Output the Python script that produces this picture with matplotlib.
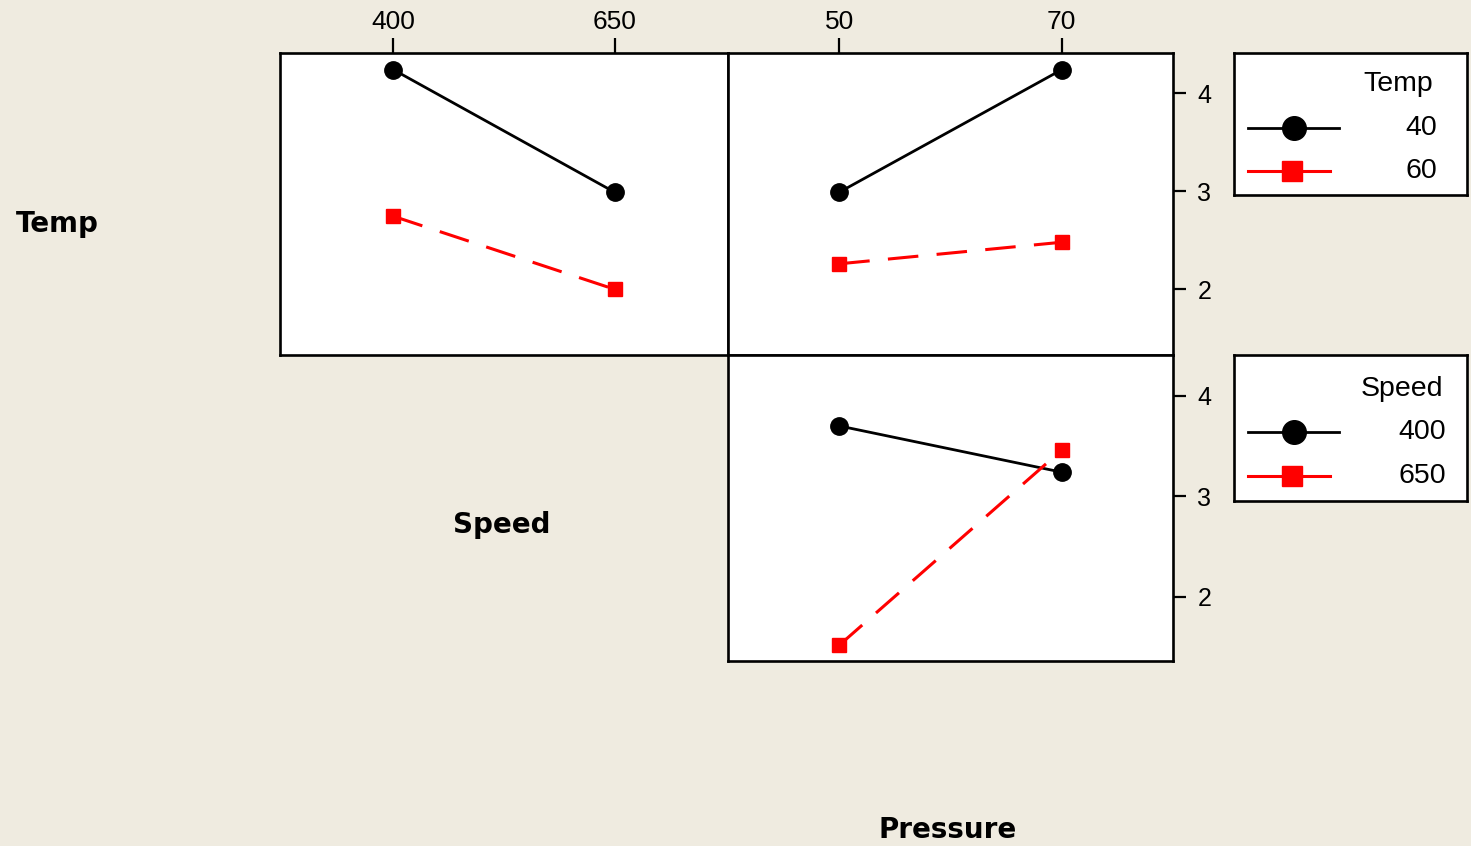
import numpy as np
import matplotlib
matplotlib.use('Agg')
import matplotlib.pyplot as plt

plt.rcParams['font.family'] = ['Liberation Sans', 'DejaVu Sans']

# factor levels
speed_levels = [400, 650]
pressure_levels = [50, 70]
temp_labels = ['40', '60']
speed_labels = ['400', '650']

# cell means
temp40_vs_speed = [4.24, 2.99]
temp60_vs_speed = [2.745, 2.00]
temp40_vs_pressure = [2.99, 4.24]
temp60_vs_pressure = [2.26, 2.48]
speed400_vs_pressure = [3.70, 3.24]
speed650_vs_pressure = [1.52, 3.46]

bg = '#EFEBE0'
W, H = 1471, 846
fig = plt.figure(figsize=(W / 100, H / 100), dpi=100, facecolor=bg)


def px_axes(x0, y0, x1, y1):
    return fig.add_axes([x0 / W, 1 - y1 / H, (x1 - x0) / W, (y1 - y0) / H])


black = dict(color='black', lw=2.0, marker='o', ms=12.5)
red = dict(color='red', lw=2.2, ls=(0, (10, 6)), marker='s', ms=10.5)

ax_ts = px_axes(280, 53, 728, 355)
ax_tp = px_axes(728, 53, 1173, 355)
ax_sp = px_axes(728, 355, 1173, 661)

ax_ts.plot(speed_levels, temp40_vs_speed, **black)
ax_ts.plot(speed_levels, temp60_vs_speed, **red)
ax_tp.plot(pressure_levels, temp40_vs_pressure, **black)
ax_tp.plot(pressure_levels, temp60_vs_pressure, **red)
ax_sp.plot(pressure_levels, speed400_vs_pressure, **black)
ax_sp.plot(pressure_levels, speed650_vs_pressure, **red)

ax_ts.set_xlim(272, 778)
ax_tp.set_xlim(40, 80)
ax_sp.set_xlim(40, 80)
for ax in (ax_ts, ax_tp):
    ax.set_ylim(1.33, 4.41)
ax_sp.set_ylim(1.363, 4.405)

for ax in (ax_ts, ax_tp, ax_sp):
    ax.set_facecolor('white')
    for s in ax.spines.values():
        s.set_linewidth(1.9)
    ax.tick_params(left=False, labelleft=False, bottom=False, labelbottom=False)

ax_ts.set_xticks(speed_levels)
ax_tp.set_xticks(pressure_levels)
for ax in (ax_ts, ax_tp):
    ax.tick_params(axis='x', top=True, labeltop=True, direction='out',
                   length=10.5, width=1.6, pad=3, labelsize=19)
ax_sp.set_xticks([])
for ax in (ax_tp, ax_sp):
    ax.set_yticks([2, 3, 4])
    ax.tick_params(axis='y', right=True, labelright=True, direction='out',
                   length=9.5, width=1.6, pad=8, labelsize=18)
ax_ts.set_yticks([])

# factor names
lab = dict(fontsize=20, fontweight='bold', family='DejaVu Sans',
           ha='center', va='center')
fig.text(57 / W, 1 - 224 / H, 'Temp', **lab)
fig.text(502 / W, 1 - 525 / H, 'Speed', **lab)
fig.text(948 / W, 1 - 830 / H, 'Pressure', **lab)


# legend boxes (drawn in pixel coordinates)
def legend_box(y0, y1, title, labels, rows, title_y, text_x, title_x):
    lg = px_axes(1234, y0, 1467, y1)
    lg.set_xlim(1234, 1467)
    lg.set_ylim(y1, y0)
    lg.set_xticks([])
    lg.set_yticks([])
    lg.set_facecolor('white')
    for s in lg.spines.values():
        s.set_linewidth(1.9)
    lg.plot([1248, 1339], [rows[0]] * 2, color='black', lw=2.0)
    lg.plot([1294], [rows[0]], 'o', color='black', ms=17)
    lg.plot([1248, 1330], [rows[1]] * 2, color='red', lw=2.2)
    lg.plot([1292], [rows[1]], 's', color='red', ms=14.5)
    lg.text(title_x, title_y, title, ha='right', va='center', fontsize=20.5)
    for lbl, yy in zip(labels, rows):
        lg.text(text_x, yy, lbl, ha='right', va='center', fontsize=20.5)


legend_box(53, 195, 'Temp', temp_labels, [128, 171], 84, 1437, 1433)
legend_box(355, 501, 'Speed', speed_labels, [432, 476], 389, 1446, 1443)

fig.savefig('out.png', dpi=100, facecolor=bg)
